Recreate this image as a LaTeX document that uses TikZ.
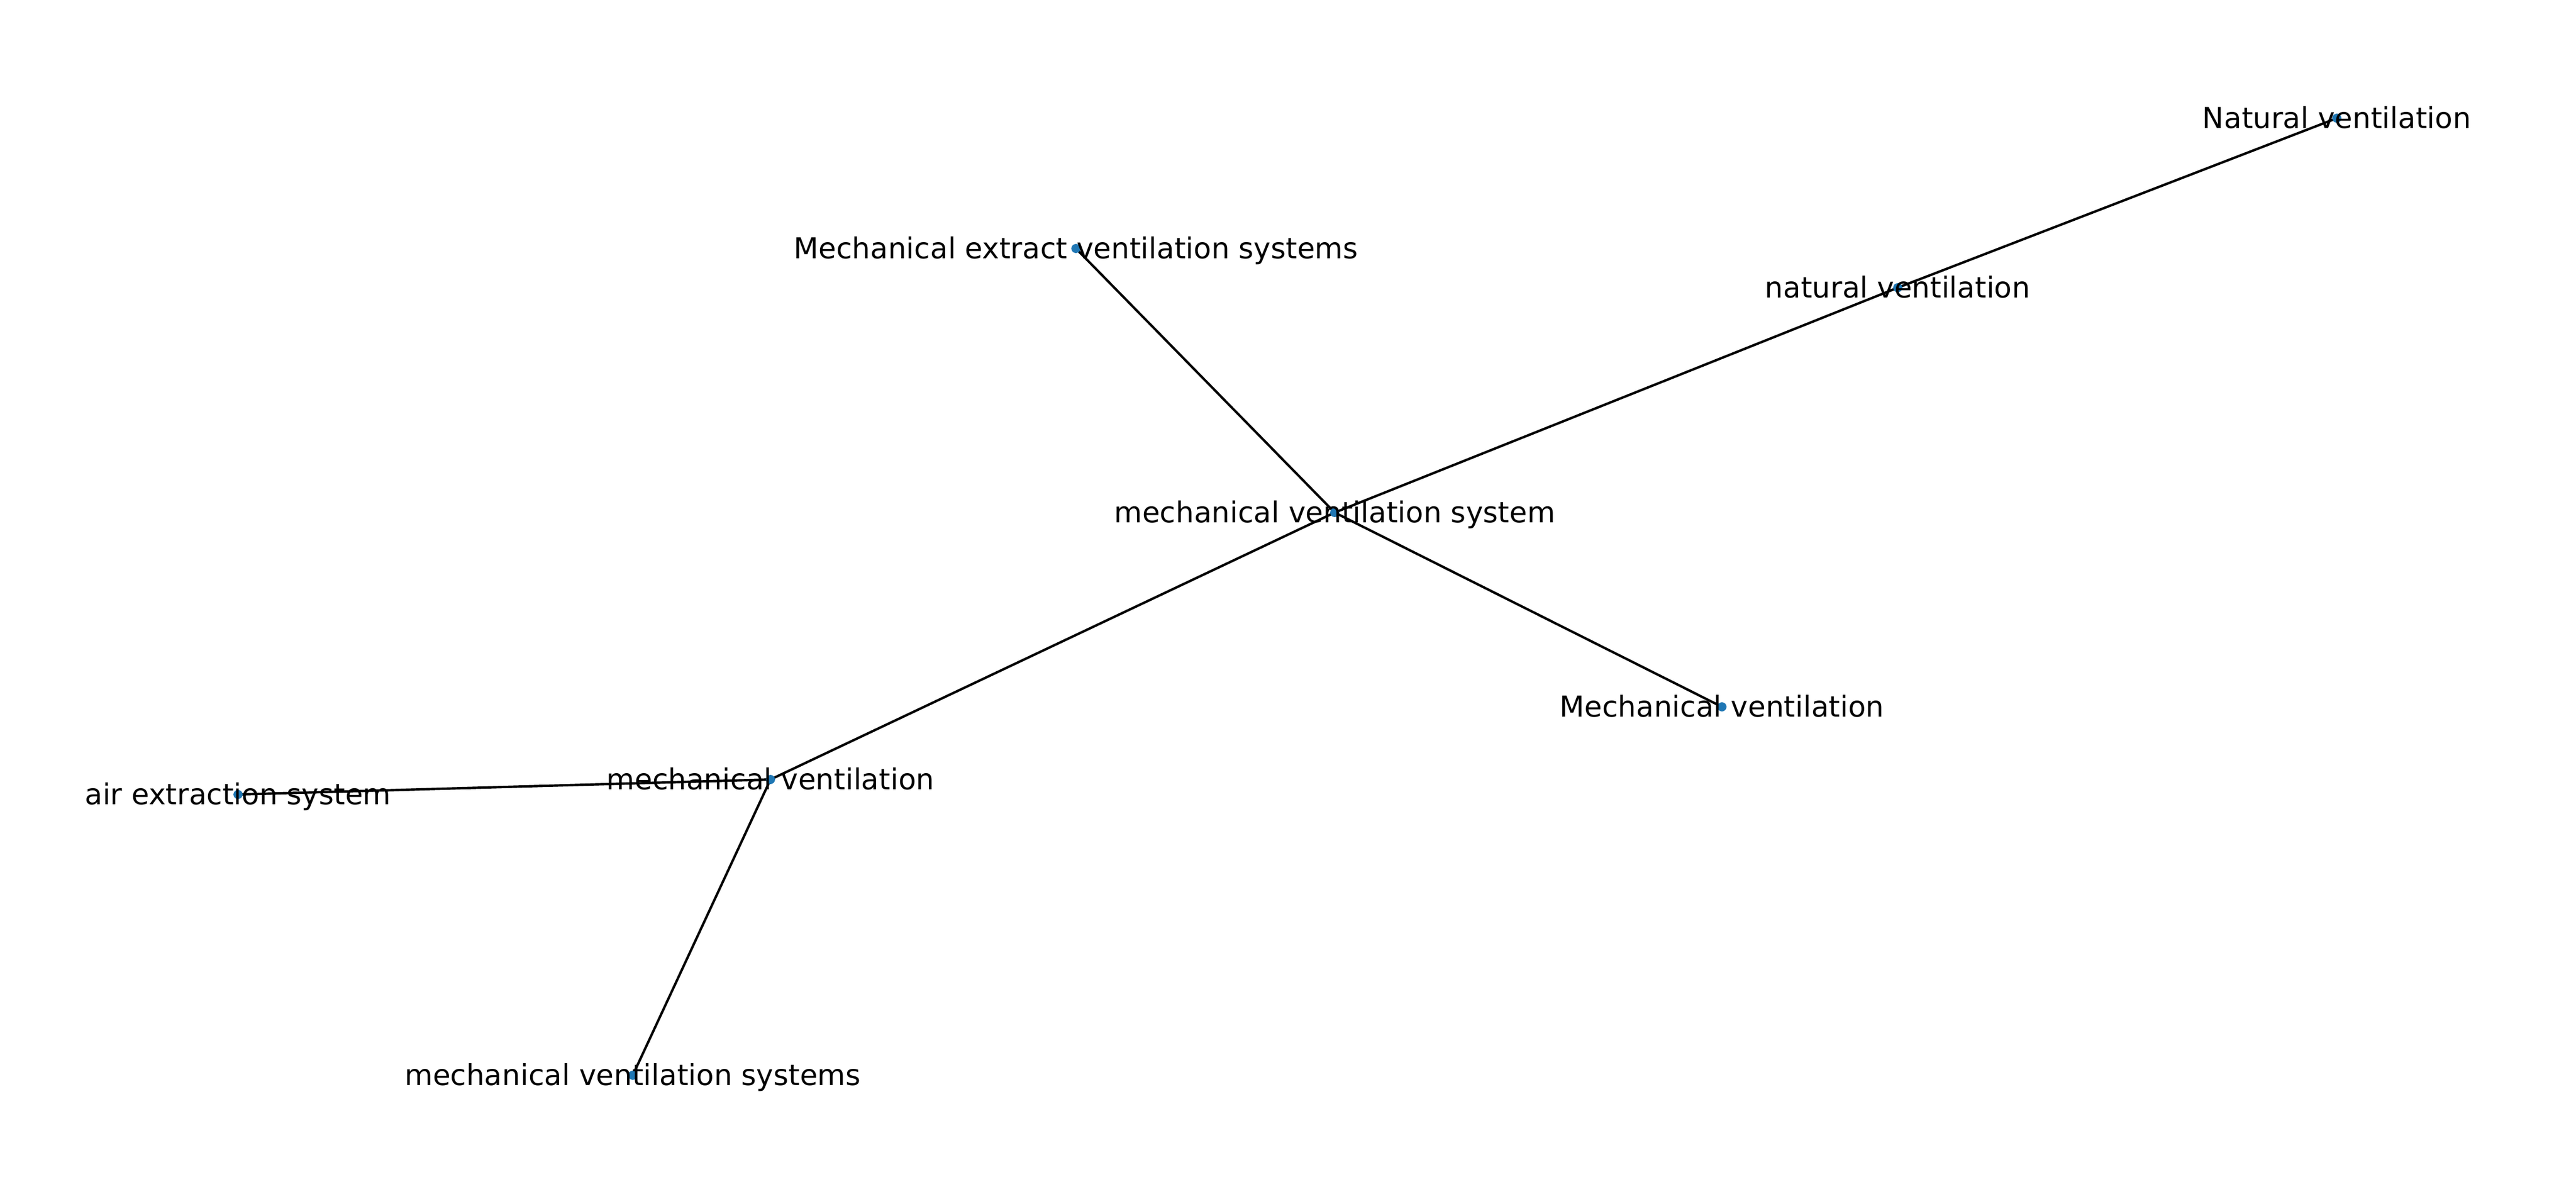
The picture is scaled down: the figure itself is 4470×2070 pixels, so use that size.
\documentclass[tikz,border=0pt]{standalone}
\usepackage{fontspec}
\setmainfont{DejaVu Sans}
\definecolor{dotblue}{HTML}{1F77B4}
\tikzset{
  dot/.style={circle, fill=dotblue, draw=none, inner sep=0pt, minimum size=3.8pt},
  lbl/.style={anchor=base, inner sep=0pt, font=\fontsize{12}{14}\selectfont, yshift=-4.1pt},
  edge/.style={draw=black, line width=1pt}
}
\begin{document}
\begin{tikzpicture}[x=0.24pt, y=-0.24pt]
\useasboundingbox (0,0) rectangle (4470,2070);
\fill[white] (0,0) rectangle (4470,2070);
\coordinate (NV) at (4055,205);
\coordinate (nv) at (3293,499);
\coordinate (ME) at (1867,431);
\coordinate (MVS) at (2316,889);
\coordinate (MV) at (2988,1226);
\coordinate (mv) at (1337,1352);
\coordinate (AE) at (413,1378);
\coordinate (mvs) at (1098,1865);
\draw[edge] (nv) -- (NV);
\draw[edge] (nv) -- (MVS);
\draw[edge] (MVS) -- (ME);
\draw[edge] (MVS) -- (MV);
\draw[edge] (MVS) -- (mv);
\draw[edge] (mv) -- (AE);
\draw[edge] (mv) -- (mvs);
\foreach \n in {NV,nv,ME,MVS,MV,mv,AE,mvs} \node[dot] (d\n) at (\n) {};
\node[lbl] (tNV) at (NV) {Natural ventilation};
\node[lbl] (tnv) at (nv) {natural ventilation};
\node[lbl] (tME) at (ME) {Mechanical extract ventilation systems};
\node[lbl] (tMVS) at (MVS) {mechanical ventilation system};
\node[lbl] (tMV) at (MV) {Mechanical ventilation};
\node[lbl] (tmv) at (mv) {mechanical ventilation};
\node[lbl] (tAE) at (AE) {air extraction system};
\node[lbl] (tmvs) at (mvs) {mechanical ventilation systems};
\end{tikzpicture}
\end{document}
